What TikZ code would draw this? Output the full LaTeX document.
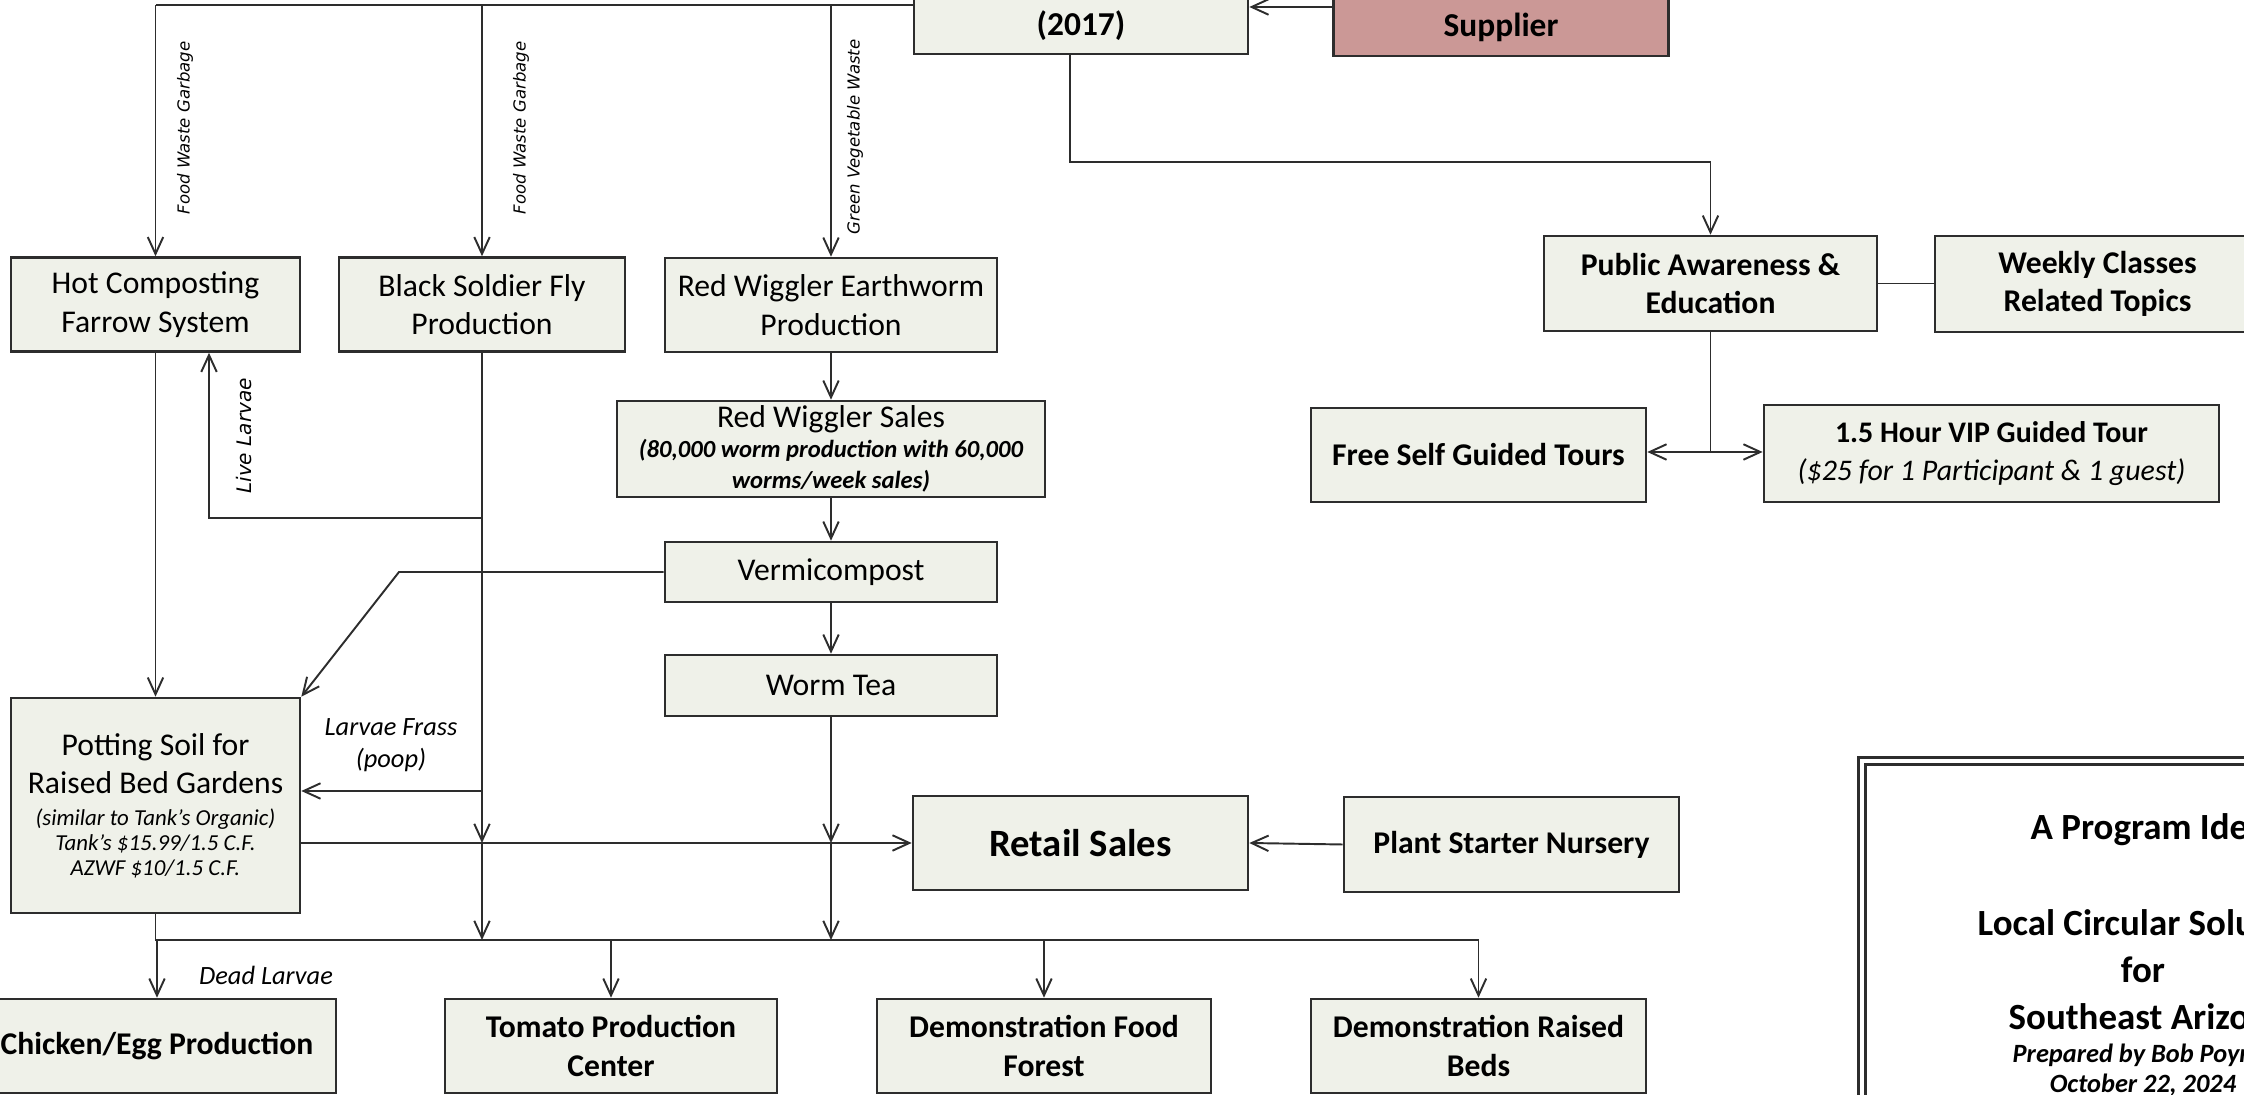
\documentclass[tikz,border=0pt]{standalone}
\usepackage{fontspec}
\setmainfont{Carlito}
\newfontfamily\flowfont{DejaVu Sans}
\usetikzlibrary{arrows.meta}

\definecolor{boxfill}{RGB}{239,241,233}
\definecolor{supplierfill}{RGB}{203,152,150}
\definecolor{linegrey}{RGB}{45,45,45}

\begin{document}
\begin{tikzpicture}[x=0.01cm,y=-0.01cm,
  box/.style={draw=linegrey,line width=0.7pt,fill=boxfill,inner sep=0pt,align=center,
    minimum height=0.94cm,font=\fontsize{9}{11}\selectfont},
  bbox/.style={box,font=\fontsize{9}{11}\selectfont\bfseries},
  flow/.style={draw=linegrey,line width=0.55pt},
  arr/.style={flow,-{Straight Barb[length=4.8pt,width=4.4pt]}},
  note/.style={inner sep=0pt,font=\fontsize{7.5}{9}\selectfont\itshape},
  vnote/.style={inner sep=0pt,rotate=90,font=\flowfont\itshape\fontsize{4.7}{6}\selectfont},
  titletext/.style={inner sep=0pt,font=\fontsize{10.5}{12}\selectfont\bfseries}]
  \useasboundingbox (0,0) rectangle (2244,1095);
  \clip (0,0) rectangle (2244,1095);

  % top row, cut by the page edge
  \node[box,minimum width=3.34cm,minimum height=1.14cm] (farm) at (1081,-3) {};
  \node[inner sep=0pt,font=\fontsize{9.5}{11}\selectfont\bfseries] (farmyear) at (1081,26) {(2017)};
  \node[box,fill=supplierfill,minimum width=3.35cm,minimum height=1.16cm] (supplier) at (1501,-2) {};
  \node[inner sep=0pt,font=\fontsize{9.5}{11}\selectfont\bfseries] (suppliertxt) at (1501,27) {Supplier};

  \node[box,minimum width=2.89cm] (hot) at (155.5,304.5) {Hot Composting\\Farrow System};
  \node[box,minimum width=2.86cm] (bsf) at (482,304.5) {Black Soldier Fly\\Production};
  \node[box,minimum width=3.32cm] (worms) at (831,305) {Red Wiggler Earthworm\\Production};
  \node[box,minimum width=4.28cm,minimum height=0.96cm] (wsales) at (831,449)
    {Red Wiggler Sales\\[-2.5pt]{\fontsize{7}{8.5}\selectfont\bfseries\itshape (80,000 worm production with 60,000}\\[-2pt]
     {\fontsize{7}{8.5}\selectfont\bfseries\itshape worms/week sales)}};
  \node[box,minimum width=3.32cm,minimum height=0.6cm] (vermi) at (831,572) {Vermicompost};
  \node[box,minimum width=3.32cm,minimum height=0.61cm] (tea) at (831,685.5) {Worm Tea};
  \node[box,minimum width=2.89cm,minimum height=2.15cm] (soil) at (155.5,805.5)
    {Potting Soil for\\Raised Bed Gardens\\[-2pt]{\fontsize{6.5}{7.5}\selectfont\itshape (similar to Tank's Organic)}\\[-3.9pt]
     {\fontsize{6.5}{7.5}\selectfont\itshape Tank's \$15.99/1.5 C.F.}\\[-3.9pt]{\fontsize{6.5}{7.5}\selectfont\itshape AZWF \$10/1.5 C.F.}};

  \node[bbox,minimum width=3.33cm,minimum height=0.95cm] (public) at (1710.5,283.5) {Public Awareness \&\\Education};
  \node[bbox,minimum width=3.25cm,minimum height=0.96cm] (weekly) at (2097.5,284) {Weekly Classes\\Related Topics};
  \node[bbox,minimum width=3.35cm] (free) at (1478.5,455) {Free Self Guided Tours};
  \node[bbox,minimum width=4.55cm,minimum height=0.97cm,font=\fontsize{8.5}{11}\selectfont\bfseries] (vip) at (1991.5,453.5)
    {1.5 Hour VIP Guided Tour\\{\mdseries\itshape ({\$}25 for 1 Participant \& 1 guest)}};

  \node[bbox,minimum width=3.35cm,font=\fontsize{11}{13}\selectfont\bfseries] (retail) at (1080.5,843) {Retail Sales};
  \node[bbox,minimum width=3.35cm,minimum height=0.95cm] (nursery) at (1511.5,844.5) {Plant Starter Nursery};

  \node[bbox,minimum width=3.58cm] (chicken) at (157,1046) {Chicken/Egg Production};
  \node[bbox,minimum width=3.32cm] (tomato) at (611,1046) {Tomato Production\\Center};
  \node[bbox,minimum width=3.34cm] (forest) at (1044,1046) {Demonstration Food\\Forest};
  \node[bbox,minimum width=3.35cm] (beds) at (1478.5,1046) {Demonstration Raised\\Beds};

  % title block
  \node[draw=linegrey,double,double distance=1.3pt,line width=0.7pt,minimum width=4.4cm,minimum height=3.9cm] (titlebox) at (2082,956) {};
  \node[titletext,anchor=west] (title1) at (2030,830) {A Program Ide};
  \node[titletext,anchor=west] (title2) at (1977,923) {Local Circular Solu};
  \node[titletext] (title3) at (2143,970) {for};
  \node[titletext,anchor=west] (title4) at (2008,1017) {Southeast Arizo};
  \node[titletext,anchor=west,font=\fontsize{7.5}{9}\selectfont\bfseries\itshape] (title5) at (2012,1055) {Prepared by Bob Poyn};
  \node[titletext,font=\fontsize{7.5}{9}\selectfont\bfseries\itshape] (title6) at (2143,1085) {October 22, 2024};

  % feeds from the top
  \draw[flow] (farm.west |- 0,5) -- (hot.north |- 0,5);
  \draw[arr] (hot.north |- 0,5) -- (hot.north);
  \draw[arr] (bsf.north |- 0,5) -- (bsf.north);
  \draw[arr] (worms.north |- 0,5) -- (worms.north);
  \draw[arr] (supplier.west |- 0,7) -- (farm.east |- 0,7);
  \node[vnote] (garbage1) at (185,128) {Food Waste Garbage};
  \node[vnote] (garbage2) at (521,128) {Food Waste Garbage};
  \node[vnote] (greens) at (855,137) {Green Vegetable Waste};

  \draw[arr] (farm.south -| 1070,0) -- (1070,162) -| (public.north);
  \draw[flow] (public.east) -- (public.east -| weekly.west);
  \coordinate (split) at (public.south |- 0,452);
  \draw[flow] (public.south) -- (split);
  \draw[arr] (split) -- (split -| free.east);
  \draw[arr] (split) -- (split -| vip.west);

  \draw[arr] (worms.south) -- (wsales.north);
  \draw[arr] (wsales.south) -- (vermi.north);
  \draw[arr] (vermi.south) -- (tea.north);

  \coordinate (larvae) at (209,518);
  \draw[arr] (bsf.south |- larvae) -- (larvae) -- (larvae |- hot.south);
  \node[vnote,font=\flowfont\itshape\fontsize{5.7}{7}\selectfont] (livelarvae) at (244,436) {Live Larvae};

  \draw[arr] (hot.south) -- (soil.north);
  \draw[arr] (vermi.west) -- (399,572) -- (soil.north east);
  \draw[arr] (bsf.south |- 0,791) -- (soil.east |- 0,791);
  \node[note,align=center] (frass) at (391,745) {Larvae Frass\\(poop)};

  \coordinate (bus) at (0,940);
  \draw[arr] (bsf.south) -- (bsf.south |- retail.west);
  \draw[arr] (bsf.south |- retail.west) -- (bsf.south |- bus);
  \draw[arr] (tea.south) -- (tea.south |- retail.west);
  \draw[arr] (tea.south |- retail.west) -- (tea.south |- bus);
  \draw[arr] (soil.east |- retail.west) -- (retail.west);
  \draw[arr] (nursery.west) -- (retail.east);

  \draw[flow] (soil.south) -- (soil.south |- bus) -- (beds.north |- bus);
  \foreach \n in {chicken,tomato,forest,beds}
    \draw[arr] (\n.north |- bus) -- (\n.north);
  \node[note] (dead) at (266,975) {Dead Larvae};

\end{tikzpicture}
\end{document}
